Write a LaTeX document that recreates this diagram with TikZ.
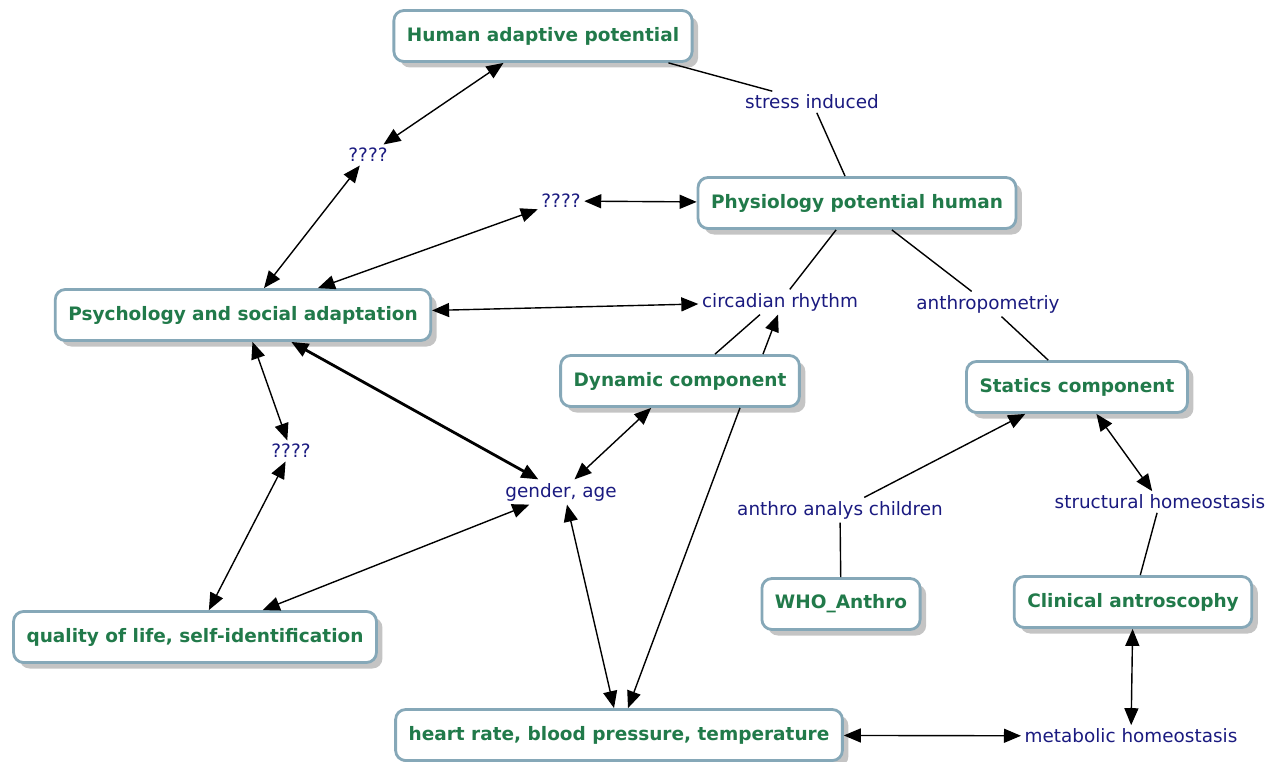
\documentclass[tikz,border=0pt]{standalone}
\usepackage{fontspec}
\setmainfont{DejaVu Sans}
\usetikzlibrary{arrows.meta,shadows}

\definecolor{boxline}{HTML}{86A8B8}
\definecolor{boxtext}{HTML}{217A4A}
\definecolor{linktext}{HTML}{1A1A80}
\definecolor{shadowgray}{HTML}{C4C4C4}

\begin{document}
\begin{tikzpicture}[x=1pt,y=-1pt,>={Triangle[length=17pt,width=14pt]},line width=1.4pt,
    concept/.style={draw=boxline,line width=2.8pt,rounded corners=10pt,fill=white,
      text=boxtext,font=\bfseries\fontsize{18.5}{22}\selectfont,minimum height=51pt,inner xsep=13pt,
      drop shadow={shadow xshift=6pt,shadow yshift=-6pt,fill=shadowgray,opacity=1}},
    phrase/.style={text=linktext,font=\fontsize{18.4}{22}\selectfont,inner sep=3pt}]
      \useasboundingbox (0,0) rectangle (1274,762);

      % Concepts
        \node[concept] (human) at (543,36) {Human adaptive potential};
        \node[concept] (physio) at (857,203) {Physiology potential human};
        \node[concept] (psych) at (243,315) {Psychology and social adaptation};
        \node[concept] (dynamic) at (680,381) {Dynamic component};
        \node[concept] (statics) at (1077,387) {Statics component};
        \node[concept] (who) at (841,604) {WHO\_Anthro};
        \node[concept] (clinical) at (1133,602) {Clinical antroscophy};
        \node[concept] (quality) at (195,637) {quality of life, self-identification};
        \node[concept] (heart) at (619,735) {heart rate, blood pressure, temperature};

        % Linking phrases
        \node[phrase] (stress) at (812,102) {stress induced};
        \node[phrase] (q1) at (368,155) {????};
        \node[phrase] (q2) at (561,201) {????};
        \node[phrase] (circ) at (780,302) {circadian rhythm};
        \node[phrase] (anthro) at (988,304) {anthropometriy};
        \node[phrase] (q3) at (291,451) {????};
        \node[phrase] (gender) at (561,492) {gender, age};
        \node[phrase] (children) at (840,510) {anthro analys children};
        \node[phrase] (struct) at (1160,502) {structural homeostasis};
        \node[phrase] (metab) at (1131,736) {metabolic homeostasis};

        % Plain links
        \draw ([xshift=-25pt]human.south east) -- (stress);
        \draw (stress) -- (physio);
        \draw (physio) -- (circ);
        \draw (physio) -- (anthro);
        \draw (anthro) -- (statics);
        \draw ([xshift=35pt]dynamic.north) -- ([xshift=-20pt]circ.south);
        \draw (who) -- (children);
        \draw (struct) -- (clinical);

        % Arrows
        \draw [<->] (q1) -- (human);
        \draw [<->] (q1) -- (psych);
        \draw [<->] (q2) -- (psych);
        \draw [<->] (q2) -- (physio);
        \draw [<->] (psych) -- (circ);
        \draw [->] ([xshift=83pt]dynamic.north) -- ([xshift=-2pt]circ.south);
        \draw [<->,line width=2.8pt] (psych) -- (gender);
        \draw [<->] (psych) -- (q3);
        \draw [<->] (q3) -- (quality);
        \draw [<->] (gender) -- (quality);
        \draw [<->] (gender) -- (dynamic);
        \draw [<->] ([xshift=6pt]gender.south) -- ([xshift=-5pt]heart.north);
        \draw [->] ([xshift=60pt]dynamic.south) -- ([xshift=9pt]heart.north);
        \draw [<->] (heart) -- (metab);
        \draw [<->] (clinical) -- (metab);
        \draw [<->] (statics) -- (struct);
        \draw [->] (children) -- (statics);

    \end{tikzpicture}
\end{document}
